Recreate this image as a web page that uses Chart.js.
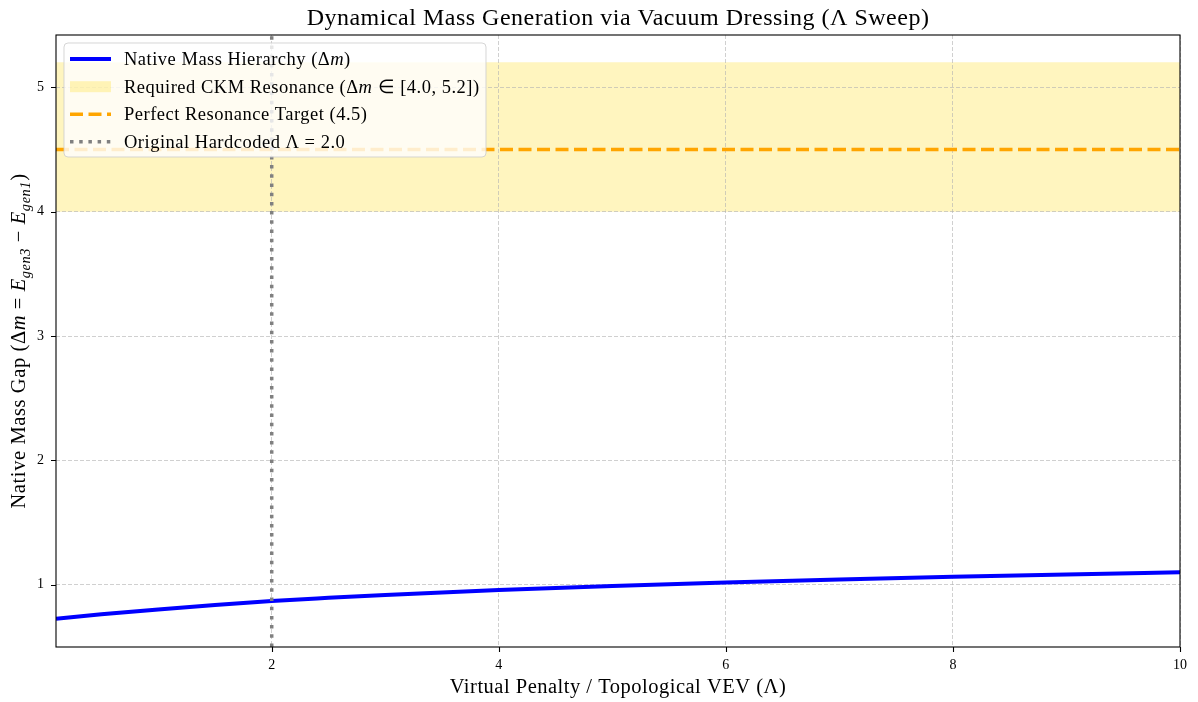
<!DOCTYPE html>
<html>
<head>
<meta charset="utf-8">
<script src="https://cdn.jsdelivr.net/npm/chart.js@4.4.1/dist/chart.umd.min.js"></script>
<style>
  body { margin: 0; background: #fff; }
  canvas { display: block; }
</style>
</head>
<body>
<canvas id="c" width="1198" height="702"></canvas>
<script>
// values
const lambdaVals = [0.1, 0.5, 1, 1.5, 2, 2.5, 3, 3.5, 4, 5, 6, 7, 8, 9, 10];
const massGap = [0.728, 0.763, 0.802, 0.838, 0.870, 0.895, 0.918, 0.939, 0.958, 0.990, 1.018, 1.042, 1.064, 1.083, 1.100];

const bandRange = [4.0, 5.2];     // required CKM resonance window
const targetMass = 4.5;           // perfect resonance target
const hardcodedLambda = 2.0;      // original hardcoded Lambda
const xRange = [0.1, 10];
const yRange = [0.5, 5.42];
const xTicks = [2, 4, 6, 8, 10];
const yTicks = [1, 2, 3, 4, 5];

const FONT = '"Liberation Serif", "Times New Roman", serif';

function fontStr(size, italic) {
  return (italic ? 'italic ' : '') + size + 'px ' + FONT;
}

// draws a run of text pieces (normal / italic / subscript) starting at x
function drawRich(ctx, segs, x, y, size, align, spacing) {
  ctx.letterSpacing = (spacing || 0) + 'px';
  let total = 0;
  const widths = segs.map(s => {
    ctx.font = fontStr(s.sub ? size * 0.7 : size, s.it);
    const w = ctx.measureText(s.t).width;
    total += w;
    return w;
  });
  let cx = align === 'center' ? x - total / 2 : x;
  ctx.textAlign = 'left';
  ctx.textBaseline = 'alphabetic';
  segs.forEach((s, i) => {
    ctx.font = fontStr(s.sub ? size * 0.7 : size, s.it);
    ctx.fillText(s.t, cx, s.sub ? y + size * 0.22 : y);
    cx += widths[i];
  });
  ctx.letterSpacing = '0px';
}

const titleText = [{ t: 'Dynamical Mass Generation via Vacuum Dressing (Λ Sweep)' }];
const xLabel = [{ t: 'Virtual Penalty / Topological VEV (Λ)' }];
const yLabel = [
  { t: 'Native Mass Gap (Δ' }, { t: 'm', it: true }, { t: ' = ' },
  { t: 'E', it: true }, { t: 'gen3', it: true, sub: true }, { t: ' − ' },
  { t: 'E', it: true }, { t: 'gen1', it: true, sub: true }, { t: ')' }
];
const legendItems = [
  { kind: 'line', color: '#0000ff', width: 4, dash: [], text: [{ t: 'Native Mass Hierarchy (Δ' }, { t: 'm', it: true }, { t: ')' }] },
  { kind: 'patch', color: 'rgba(255,215,0,0.25)', text: [{ t: 'Required CKM Resonance (Δ' }, { t: 'm', it: true }, { t: ' ∈ [4.0, 5.2])' }] },
  { kind: 'line', color: '#ffa500', width: 3.5, dash: [13, 5.5], text: [{ t: 'Perfect Resonance Target (4.5)' }] },
  { kind: 'line', color: '#808080', width: 3.5, dash: [3.5, 5.7], text: [{ t: 'Original Hardcoded Λ = 2.0' }] }
];

const decorPlugin = {
  id: 'decor',
  afterDraw(chart) {
    const ctx = chart.ctx;
    const a = chart.chartArea;
    const xs = chart.scales.x, ys = chart.scales.y;
    ctx.save();

    // frame
    ctx.strokeStyle = '#000';
    ctx.lineWidth = 1.1;
    ctx.setLineDash([]);
    ctx.strokeRect(a.left, a.top, a.right - a.left, a.bottom - a.top);

    // outward tick marks
    ctx.beginPath();
    xTicks.forEach(v => {
      const px = Math.round(xs.getPixelForValue(v)) + 0.5;
      ctx.moveTo(px, a.bottom); ctx.lineTo(px, a.bottom + 5);
    });
    yTicks.forEach(v => {
      const py = Math.round(ys.getPixelForValue(v)) + 0.5;
      ctx.moveTo(a.left, py); ctx.lineTo(a.left - 5, py);
    });
    ctx.stroke();

    // title and axis labels
    ctx.fillStyle = '#000';
    const midX = (a.left + a.right) / 2;
    drawRich(ctx, titleText, midX, 25, 24, 'center', 0.5);
    drawRich(ctx, xLabel, midX, 693, 20.5, 'center', 0.5);
    ctx.save();
    ctx.translate(25, (a.top + a.bottom) / 2);
    ctx.rotate(-Math.PI / 2);
    drawRich(ctx, yLabel, 0, 0, 20.5, 'center', 0.6);
    ctx.restore();

    // legend box
    const bx = 64, by = 43, bw = 422, bh = 114, r = 4;
    ctx.beginPath();
    ctx.roundRect(bx, by, bw, bh, r);
    ctx.fillStyle = 'rgba(255,255,255,0.8)';
    ctx.fill();
    ctx.strokeStyle = 'rgba(204,204,204,0.8)';
    ctx.lineWidth = 1;
    ctx.stroke();

    const rowY = [59, 86.7, 114.3, 141.7];
    legendItems.forEach((it, i) => {
      const cy = rowY[i];
      if (it.kind === 'patch') {
        ctx.fillStyle = it.color;
        ctx.fillRect(70, cy - 5.5, 41, 11);
      } else {
        ctx.strokeStyle = it.color;
        ctx.lineWidth = it.width;
        ctx.setLineDash(it.dash);
        ctx.beginPath();
        ctx.moveTo(70, cy); ctx.lineTo(111, cy);
        ctx.stroke();
        ctx.setLineDash([]);
      }
      ctx.fillStyle = '#000';
      drawRich(ctx, it.text, 124, cy + 6, 18.5, 'left', 0.5);
    });
    ctx.restore();
  }
};

const hline = (y) => [{ x: xRange[0], y: y }, { x: xRange[1], y: y }];

new Chart(document.getElementById('c'), {
  type: 'line',
  data: {
    datasets: [
      {
        label: 'Original Hardcoded Λ = 2.0',
        data: [{ x: hardcodedLambda, y: yRange[0] }, { x: hardcodedLambda, y: yRange[1] }],
        borderColor: '#808080', borderWidth: 3.5, borderDash: [3.5, 5.7],
        pointRadius: 0, fill: false, order: 0
      },
      {
        label: 'Perfect Resonance Target (4.5)',
        data: hline(targetMass),
        borderColor: '#ffa500', borderWidth: 3.5, borderDash: [13, 5.5],
        pointRadius: 0, fill: false, order: 1
      },
      {
        label: 'Native Mass Hierarchy (Δm)',
        data: lambdaVals.map((x, i) => ({ x: x, y: massGap[i] })),
        borderColor: '#0000ff', borderWidth: 4,
        cubicInterpolationMode: 'monotone',
        pointRadius: 0, fill: false, order: 2
      },
      {
        label: 'band low',
        data: hline(bandRange[0]),
        borderColor: 'rgba(0,0,0,0)', borderWidth: 1,
        pointRadius: 0, fill: false, order: 3
      },
      {
        label: 'Required CKM Resonance (Δm ∈ [4.0, 5.2])',
        data: hline(bandRange[1]),
        borderColor: 'rgba(0,0,0,0)', borderWidth: 1,
        backgroundColor: 'rgba(255,215,0,0.25)',
        pointRadius: 0, fill: '-1', order: 4
      }
    ]
  },
  options: {
    responsive: false,
    animation: false,
    devicePixelRatio: 1,
    layout: { padding: { top: 35, right: 18, left: 0, bottom: 0 } },
    plugins: {
      legend: { display: false },
      title: { display: false },
      tooltip: { enabled: false },
      filler: { drawTime: 'beforeDraw' }
    },
    scales: {
      x: {
        type: 'linear',
        min: xRange[0], max: xRange[1],
        afterBuildTicks: s => { s.ticks = xTicks.map(v => ({ value: v })); },
        afterFit: s => { s.height = 55; },
        grid: { color: 'rgba(176,176,176,0.6)', lineWidth: 1, drawTicks: false },
        border: { display: false, dash: [4, 2] },
        ticks: { font: { family: FONT, size: 14 }, color: '#000', padding: 10, maxRotation: 0 }
      },
      y: {
        type: 'linear',
        min: yRange[0], max: yRange[1],
        afterBuildTicks: s => { s.ticks = yTicks.map(v => ({ value: v })); },
        afterFit: s => { s.width = 56; },
        grid: { color: 'rgba(176,176,176,0.6)', lineWidth: 1, drawTicks: false },
        border: { display: false, dash: [4, 2] },
        ticks: { font: { family: FONT, size: 14 }, color: '#000', padding: 12 }
      }
    }
  },
  plugins: [decorPlugin]
});
</script>
</body>
</html>
